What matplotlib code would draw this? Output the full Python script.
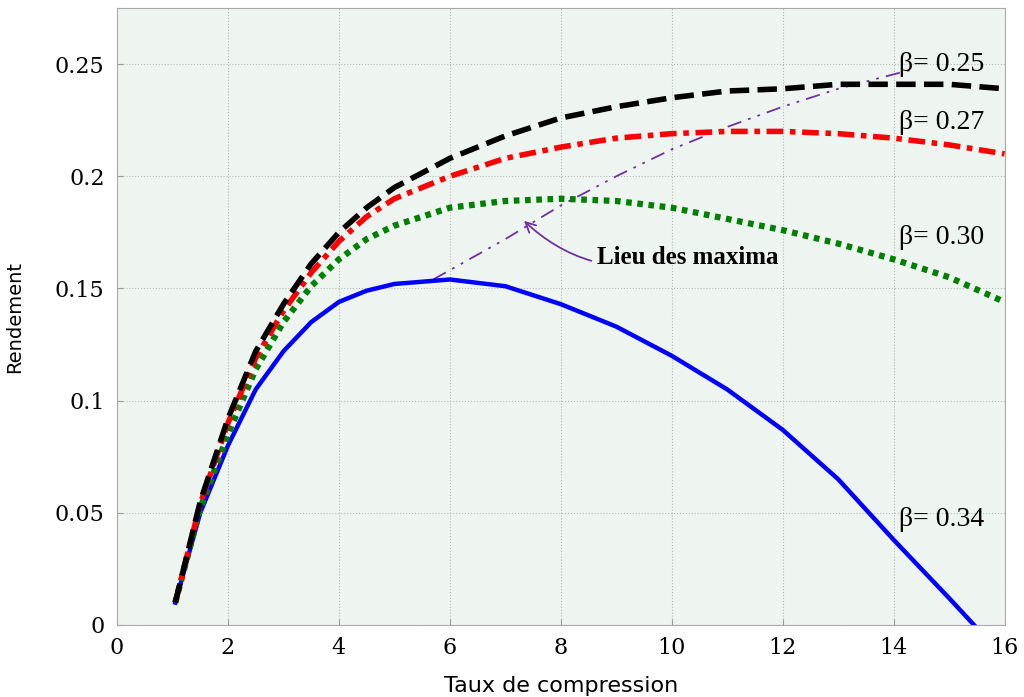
import matplotlib
matplotlib.use('Agg')
import matplotlib.pyplot as plt

# data
x = [1.05, 1.5, 2, 2.5, 3, 3.5, 4, 4.5, 5, 6, 7, 8, 9, 10, 11, 12, 13, 14, 15, 16]
b025 = [0.01, 0.055, 0.092, 0.122, 0.143, 0.161, 0.175, 0.186, 0.195, 0.208, 0.218, 0.226, 0.231, 0.235, 0.238, 0.239, 0.241, 0.241, 0.241, 0.239]
b027 = [0.01, 0.054, 0.09, 0.119, 0.14, 0.157, 0.171, 0.182, 0.19, 0.20, 0.208, 0.213, 0.217, 0.219, 0.22, 0.22, 0.219, 0.217, 0.214, 0.21]
b030 = [0.01, 0.052, 0.085, 0.114, 0.135, 0.151, 0.163, 0.172, 0.178, 0.186, 0.189, 0.19, 0.189, 0.186, 0.181, 0.176, 0.17, 0.163, 0.155, 0.144]
x034 = [1.05, 1.5, 2, 2.5, 3, 3.5, 4, 4.5, 5, 6, 7, 8, 9, 10, 11, 12, 13, 14, 15, 15.45]
b034 = [0.01, 0.05, 0.08, 0.105, 0.122, 0.135, 0.144, 0.149, 0.152, 0.154, 0.151, 0.143, 0.133, 0.12, 0.105, 0.087, 0.065, 0.038, 0.012, 0.0]
x_max = [5.7, 7, 8, 9, 10, 11, 12, 13, 14.4]
y_max = [0.154, 0.172, 0.187, 0.2, 0.212, 0.222, 0.231, 0.239, 0.248]

xticks = [0, 2, 4, 6, 8, 10, 12, 14, 16]
yticks = [0, 0.05, 0.1, 0.15, 0.2, 0.25]
ytick_labels = ['0', '0.05', '0.1', '0.15', '0.2', '0.25']

fig = plt.figure(figsize=(10.24, 6.97), dpi=100)
ax = fig.add_axes([0.1143, 0.1033, 0.8667, 0.8852])
ax.set_facecolor('#eef5f1')

ax.plot(x_max, y_max, color='#7030a0', lw=1.3, dashes=[8, 4, 1.5, 4, 1.5, 4])
ax.plot(x034, b034, color='#0000ff', lw=3.2)
ax.plot(x, b030, color='#008000', lw=4.5, linestyle=(0, (0.9, 0.9)))
ax.plot(x, b027, color='#ff0000', lw=4, dashes=[3, 1.2, 1, 1.2])
ax.plot(x, b025, color='black', lw=4, dashes=[3.5, 1.5])

ax.set_xlim(0, 16)
ax.set_ylim(0, 0.275)
ax.set_xticks(xticks)
ax.set_xticklabels([str(t) for t in xticks])
ax.set_yticks(yticks)
ax.set_yticklabels(ytick_labels)
ax.tick_params(direction='in', length=4, color='#999999', labelsize=16, pad=9)
for lbl in ax.get_xticklabels() + ax.get_yticklabels():
    lbl.set_family('DejaVu Serif')
ax.grid(True, color='#b8b8b8', linestyle=':', lw=0.8)
for s in ax.spines.values():
    s.set_color('#aaaaaa')

ax.set_xlabel('Taux de compression', fontsize=16, labelpad=12)
ax.set_ylabel('Rendement', fontsize=14, labelpad=22)

tf = dict(family='Liberation Serif', fontsize=20)
ax.text(14.1, 0.250, 'β= 0.25', **tf, va='center')
ax.text(14.1, 0.224, 'β= 0.27', **tf, va='center')
ax.text(14.1, 0.1725, 'β= 0.30', **tf, va='center')
ax.text(14.1, 0.047, 'β= 0.34', **tf, va='center')

ax.annotate('Lieu des maxima', xy=(7.3, 0.181), xytext=(8.65, 0.164),
            family='Liberation Serif', fontsize=18, fontweight='bold', va='center',
            arrowprops=dict(arrowstyle='->', color='#7030a0', lw=1.3,
                            connectionstyle='arc3,rad=-0.3', shrinkA=2))

fig.savefig('out.png', dpi=100)
